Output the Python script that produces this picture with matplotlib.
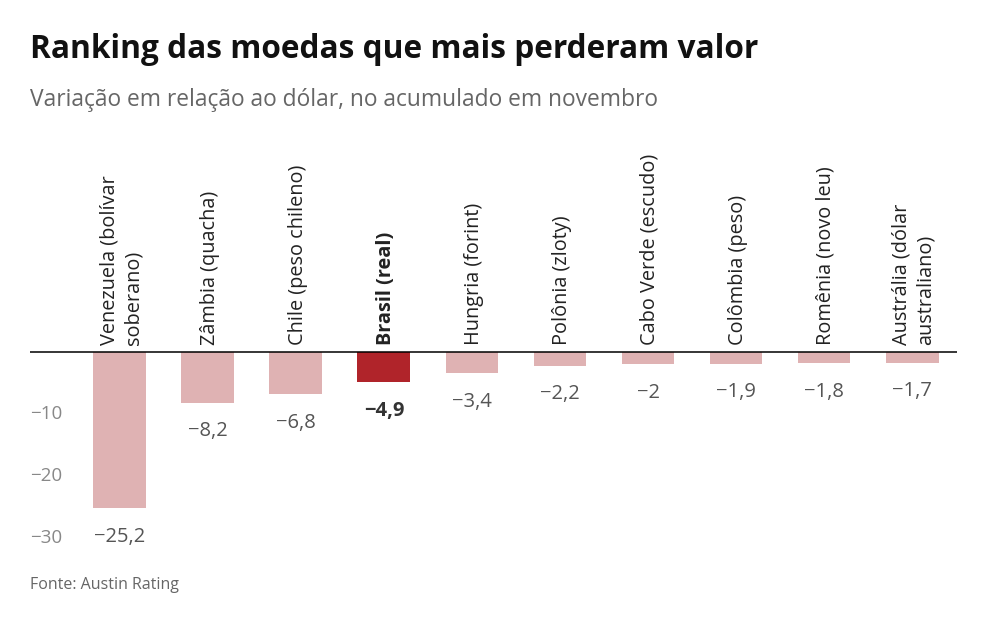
import matplotlib.pyplot as plt

moedas = ["Venezuela (bolívar\nsoberano)", "Zâmbia (quacha)", "Chile (peso chileno)",
          "Brasil (real)", "Hungria (forint)", "Polônia (zloty)", "Cabo Verde (escudo)",
          "Colômbia (peso)", "Romênia (novo leu)", "Austrália (dólar\naustraliano)"]
variacao = [-25.2, -8.2, -6.8, -4.9, -3.4, -2.2, -2.0, -1.9, -1.8, -1.7]
destaque = "Brasil (real)"
yticks = [-10, -20, -30]

plt.rcParams['font.family'] = ['Open Sans', 'DejaVu Sans']

fig = plt.figure(figsize=(10, 6.38), dpi=100)
# eixo: zero em y=352px, 6.2 px por unidade
ax = fig.add_axes([0.030, 1 - 560 / 638, 0.927, (560 - 150) / 638])
ax.set_ylim(-(560 - 352) / 6.2, (352 - 150) / 6.2)
ax.set_xlim(-1.02, 9.51)

cor_clara = "#dfb2b3"
cor_forte = "#b0242a"
cores = [cor_forte if m == destaque else cor_clara for m in moedas]
x = list(range(len(moedas)))
ax.bar(x, variacao, width=0.6, color=cores, zorder=2)
ax.axhline(0, color="black", lw=1.1, zorder=3)

for i, (m, v) in enumerate(zip(moedas, variacao)):
    negrito = m == destaque
    ax.text(i + 0.02, 1.1, m, rotation=90, ha="center", va="bottom",
            multialignment="left", fontsize=14.3, color="#222222",
            fontweight="bold" if negrito else "normal", linespacing=1.3)
    txt = ("%g" % v).replace("-", "\u2212").replace(".", ",")
    ax.text(i, v - 4.6, txt, ha="center", va="center", fontsize=14.5,
            color="#333333" if negrito else "#555555",
            fontweight="bold" if negrito else "normal")

for t in yticks:
    ax.text(-1.02, t, str(t).replace("-", "\u2212"), ha="left", va="center",
            fontsize=13.5, color="#888888")

ax.set_xticks([])
ax.set_yticks([])
for s in ax.spines.values():
    s.set_visible(False)

fig.text(0.030, 1 - 50 / 638, "Ranking das moedas que mais perderam valor",
         fontsize=22.8, fontweight="bold", color="#111111", va="center")
fig.text(0.030, 1 - 100 / 638, "Variação em relação ao dólar, no acumulado em novembro",
         fontsize=16.4, color="#666666", va="center")
fig.text(0.030, 1 - 585 / 638, "Fonte: Austin Rating", fontsize=11.5,
         color="#666666", va="center")

fig.savefig("out.png", dpi=100)
